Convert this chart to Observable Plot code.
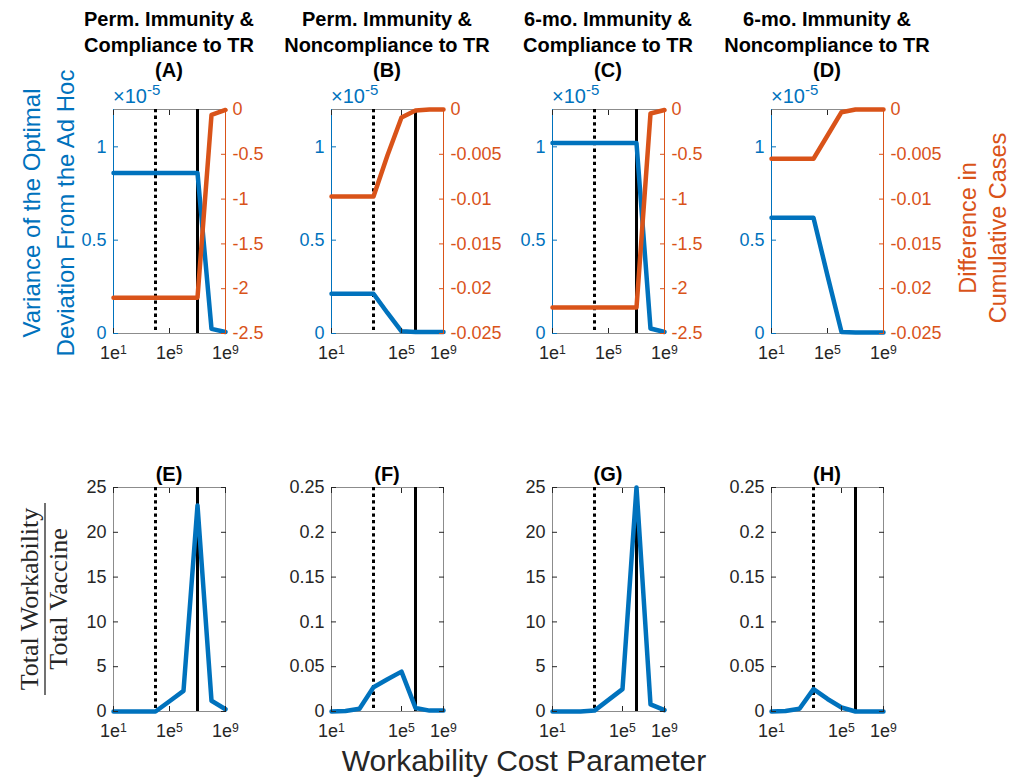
<!DOCTYPE html>
<html><head><meta charset="utf-8">
<script src="https://cdn.jsdelivr.net/npm/d3@7"></script>
<script src="https://cdn.jsdelivr.net/npm/@observablehq/plot@0.6"></script>
<style>
body{margin:0;background:#fff;}
#root{position:relative;width:1013px;height:781px;overflow:hidden;background:#fff;}
#root svg{position:absolute;}
</style></head><body><div id="root"></div>
<script>
// ---------- data ----------
const costParam = [1e1, 1e2, 1e3, 1e4, 1e5, 1e6, 1e7, 1e8, 1e9];
const xDomain = [1e1, 1e9];
const xTickLabels = ["1e1", "1e5", "1e9"];
const xTicksCentered = [1e1, 1e5, 1e9];
const xTicksShifted = [1e1, 1e6, 1e9];

// variance of the optimal deviation (x 1e-5)
const varA = [0.86, 0.86, 0.86, 0.86, 0.86, 0.86, 0.86, 0.025, 0.008];
const varB = [0.213, 0.213, 0.213, 0.213, 0.11, 0.012, 0.008, 0.008, 0.008];
const varC = [1.02, 1.02, 1.02, 1.02, 1.02, 1.02, 1.02, 0.027, 0.008];
const varD = [0.62, 0.62, 0.62, 0.62, 0.31, 0.008, 0.005, 0.005, 0.005];
// difference in cumulative cases
const cumA = [-2.10, -2.10, -2.10, -2.10, -2.10, -2.10, -2.10, -0.06, -0.005];
const cumB = [-0.0097, -0.0097, -0.0097, -0.0097, -0.0051, -0.0009, -0.0001, 0, 0];
const cumC = [-2.21, -2.21, -2.21, -2.21, -2.21, -2.21, -2.21, -0.045, -0.006];
const cumD = [-0.0055, -0.0055, -0.0055, -0.0055, -0.0029, -0.0003, 0, 0, 0];
// total workability / total vaccine
const ratioE = [0, 0, 0, 0, 1.15, 2.3, 23, 1.2, 0.25];
const ratioF = [0, 0.0005, 0.003, 0.027, 0.036, 0.0445, 0.004, 0.001, 0.001];
const ratioG = [0, 0, 0, 0.1, 1.3, 2.5, 25, 0.8, 0.15];
const ratioH = [0, 0.0005, 0.003, 0.025, 0.014, 0.0045, 0, 0, 0];

const varDomain = [0, 1.2];
const varTicks = [0, 0.5, 1];
const cumTicksLarge = [-2.5, -2, -1.5, -1, -0.5, 0];
const cumTicksSmall = [-0.025, -0.02, -0.015, -0.01, -0.005, 0];
const ratioTicksLarge = [0, 5, 10, 15, 20, 25];
const ratioTicksSmall = [0, 0.05, 0.1, 0.15, 0.2, 0.25];
const dottedLineAt = [1e4];
const solidLineAt = [1e7];

const topTitles = [
  ["Perm. Immunity &", "Compliance to TR"],
  ["Perm. Immunity &", "Noncompliance to TR"],
  ["6-mo. Immunity &", "Compliance to TR"],
  ["6-mo. Immunity &", "Noncompliance to TR"]
];
const topTags = ["(A)", "(B)", "(C)", "(D)"];
const bottomTags = ["(E)", "(F)", "(G)", "(H)"];
const leftLabelTop = ["Variance of the Optimal", "Deviation From the Ad Hoc"];
const rightLabelTop = ["Difference in", "Cumulative Cases"];
const fracNumerator = "Total Workability";
const fracDenominator = "Total Vaccine";
const xLabel = "Workability Cost Parameter";

// ---------- styling / layout ----------
const BLUE = "#0072BD", ORANGE = "#D95319", INK = "#262626", BOX = "#8c8c8c";
const FONT = "'Liberation Sans', Arial, Helvetica, sans-serif";
const M = {l: 60, r: 80, t: 12, b: 45};
const PW = 112, PH = 224;
const colX = [113, 331, 552, 771];
const rowY = [109, 487];

const root = document.getElementById("root");
const rows = values => costParam.map((c, i) => ({c, v: values[i]}));
const fmt = d => String(d);

function place(svg, col, row) {
  svg.style.left = (colX[col] - M.l) + "px";
  svg.style.top = (rowY[row] - M.t) + "px";
  root.appendChild(svg);
}

function superscripts(svg) {
  d3.select(svg).selectAll('g[aria-label="x-axis tick label"] text').each(function () {
    const m = /^1e(\d)$/.exec(this.textContent);
    if (m) {
      this.textContent = "1e";
      d3.select(this).append("tspan").attr("dy", "-0.45em").attr("font-size", "0.68em").text(m[1]);
    }
  });
}

function xAxes(ticks) {
  return [
    Plot.axisX({anchor: "bottom", ticks, tickFormat: d => xTickLabels[ticks.indexOf(d)], tickSize: -5, tickPadding: 18, color: INK, label: null, fontSize: 18}),
    Plot.axisX({anchor: "top", ticks, tickFormat: () => "", tickSize: -5, color: INK, label: null})
  ];
}

function refLines(show) {
  if (!show) return [];
  return [
    Plot.ruleX(dottedLineAt, {stroke: "#000", strokeWidth: 3, strokeDasharray: "3.3,3.3"}),
    Plot.ruleX(solidLineAt, {stroke: "#000", strokeWidth: 3})
  ];
}

function basePlot(yDomain, marks, xAxisNull) {
  return Plot.plot({
    width: PW + M.l + M.r, height: PH + M.t + M.b,
    marginLeft: M.l, marginRight: M.r, marginTop: M.t, marginBottom: M.b,
    x: {type: "log", domain: xDomain, ...(xAxisNull ? {axis: null} : {})},
    y: {domain: yDomain},
    style: {background: "none", overflow: "visible", fontFamily: FONT, fontSize: "18px", color: INK},
    marks
  });
}

// ---------- top row ----------
const topPanels = [
  {v: varA, c: cumA, cTicks: cumTicksLarge, xt: xTicksCentered, lines: true},
  {v: varB, c: cumB, cTicks: cumTicksSmall, xt: xTicksShifted, lines: true},
  {v: varC, c: cumC, cTicks: cumTicksLarge, xt: xTicksCentered, lines: true},
  {v: varD, c: cumD, cTicks: cumTicksSmall, xt: xTicksCentered, lines: false}
];
topPanels.forEach((p, i) => {
  const left = basePlot(varDomain, [
    Plot.ruleY([varDomain[0]], {stroke: BOX}),
    Plot.ruleY([varDomain[1]], {stroke: BOX}),
    Plot.ruleX([xDomain[0]], {stroke: BLUE}),
    ...refLines(p.lines),
    Plot.line(rows(p.v), {x: "c", y: "v", stroke: BLUE, strokeWidth: 4.5}),
    Plot.axisY({anchor: "left", ticks: varTicks, tickFormat: fmt, tickSize: -5, tickPadding: 12, color: BLUE, label: null, fontSize: 18}),
    ...xAxes(p.xt)
  ]);
  superscripts(left);
  place(left, i, 0);
  const cDomain = [p.cTicks[0], 0];
  const right = basePlot(cDomain, [
    Plot.ruleX([xDomain[1]], {stroke: ORANGE}),
    Plot.line(rows(p.c), {x: "c", y: "v", stroke: ORANGE, strokeWidth: 4.5}),
    Plot.axisY({anchor: "right", ticks: p.cTicks, tickFormat: fmt, tickSize: -5, tickPadding: 12, color: ORANGE, label: null, fontSize: 18})
  ], true);
  place(right, i, 0);
});

// ---------- bottom row ----------
const bottomPanels = [
  {r: ratioE, ticks: ratioTicksLarge, xt: xTicksCentered},
  {r: ratioF, ticks: ratioTicksSmall, xt: xTicksShifted},
  {r: ratioG, ticks: ratioTicksLarge, xt: xTicksShifted},
  {r: ratioH, ticks: ratioTicksSmall, xt: xTicksShifted}
];
bottomPanels.forEach((p, i) => {
  const yDomain = [p.ticks[0], p.ticks[p.ticks.length - 1]];
  const svg = basePlot(yDomain, [
    Plot.ruleY([yDomain[0]], {stroke: BOX}),
    Plot.ruleY([yDomain[1]], {stroke: BOX}),
    Plot.ruleX([xDomain[0]], {stroke: BOX}),
    Plot.ruleX([xDomain[1]], {stroke: BOX}),
    ...refLines(true),
    Plot.line(rows(p.r), {x: "c", y: "v", stroke: BLUE, strokeWidth: 4.5}),
    Plot.axisY({anchor: "left", ticks: p.ticks, tickFormat: fmt, tickSize: -5, tickPadding: 12, color: INK, label: null, fontSize: 18}),
    Plot.axisY({anchor: "right", ticks: p.ticks, tickFormat: () => "", tickSize: -5, color: INK, label: null}),
    ...xAxes(p.xt)
  ]);
  superscripts(svg);
  place(svg, i, 1);
});

// ---------- annotations ----------
const ann = d3.select(root).append("svg")
  .attr("width", 1013).attr("height", 781)
  .style("left", "0px").style("top", "0px").style("pointer-events", "none")
  .style("font-family", FONT);

topTitles.forEach((t, i) => {
  const cx = colX[i] + PW / 2;
  const g = ann.append("text").attr("text-anchor", "middle").attr("font-weight", "bold")
    .attr("font-size", 20).attr("fill", "#000");
  g.append("tspan").attr("x", cx).attr("y", 26).text(t[0]);
  g.append("tspan").attr("x", cx).attr("y", 51.5).text(t[1]);
  g.append("tspan").attr("x", cx).attr("y", 77).text(topTags[i]);
  const e = ann.append("text").attr("x", colX[i]).attr("y", 103).attr("fill", BLUE).attr("font-size", 20);
  e.append("tspan").text("\u00d710");
  e.append("tspan").attr("dy", -8).attr("font-size", 15).text("-5");
});
bottomTags.forEach((t, i) => {
  ann.append("text").attr("x", colX[i] + PW / 2).attr("y", 481).attr("text-anchor", "middle")
    .attr("font-weight", "bold").attr("font-size", 20).attr("fill", "#000").text(t);
});

// left y label (top row)
[40, 74].forEach((bx, k) => {
  ann.append("text").attr("transform", `translate(${bx},213) rotate(-90)`).attr("text-anchor", "middle")
    .attr("font-size", 24).attr("fill", BLUE).text(leftLabelTop[k]);
});
// right y label (top row)
[976, 1006].forEach((bx, k) => {
  ann.append("text").attr("transform", `translate(${bx},228) rotate(-90)`).attr("text-anchor", "middle")
    .attr("font-size", 23.5).attr("fill", ORANGE).text(rightLabelTop[k]);
});
// fraction label (bottom row)
const SERIF = "'Liberation Serif', 'DejaVu Serif', serif";
ann.append("text").attr("transform", "translate(38,599) rotate(-90)").attr("text-anchor", "middle")
  .attr("font-family", SERIF).attr("font-size", 26).attr("fill", INK).text(fracNumerator);
ann.append("line").attr("x1", 45).attr("x2", 45).attr("y1", 503).attr("y2", 695)
  .attr("stroke", INK).attr("stroke-width", 1.3);
ann.append("text").attr("transform", "translate(67,599) rotate(-90)").attr("text-anchor", "middle")
  .attr("font-family", SERIF).attr("font-size", 26).attr("fill", INK).text(fracDenominator);
// x label
ann.append("text").attr("x", 524).attr("y", 771).attr("text-anchor", "middle")
  .attr("font-size", 30).attr("fill", INK).text(xLabel);
</script>
</body></html>
